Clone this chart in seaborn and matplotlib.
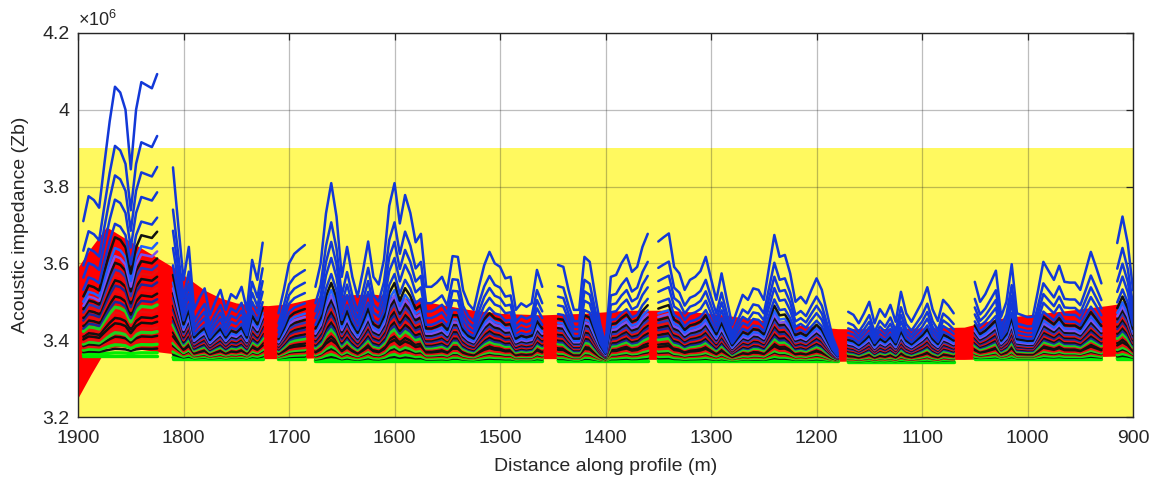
import numpy as np
import pandas as pd
import matplotlib
matplotlib.use("Agg")
import matplotlib.pyplot as plt
import seaborn as sns

# upper envelope (top blue line) of each profile segment, impedance in 1e6 Zb, samples every 5 m
seg1_x = list(range(1895, 1824, -5))
seg1_top = [3.71, 3.775, 3.765, 3.745, 3.86, 3.97, 4.06, 4.045, 4.0, 3.845, 4.0, 4.072, 4.064, 4.056, 4.093]
seg2_x = list(range(1810, 1724, -5))
seg2_top = [3.85, 3.70, 3.557, 3.643, 3.48, 3.51, 3.535, 3.465, 3.50, 3.531, 3.479, 3.52, 3.509,
            3.539, 3.479, 3.609, 3.557, 3.654]
seg3_x = list(range(1710, 1684, -5))
seg3_top = [3.47, 3.53, 3.60, 3.625, 3.637, 3.648]
seg4_x = list(range(1675, 1459, -5))
seg4_top = [3.539, 3.60, 3.73, 3.809, 3.722, 3.565, 3.643, 3.565, 3.513, 3.58, 3.657, 3.565, 3.545,
            3.61, 3.75, 3.809, 3.704, 3.778, 3.731, 3.655, 3.677, 3.539, 3.539, 3.55, 3.565, 3.531,
            3.619, 3.617, 3.53, 3.495, 3.479, 3.54, 3.595, 3.63, 3.60, 3.591, 3.561, 3.565, 3.479,
            3.496, 3.487, 3.496, 3.583, 3.539]
seg5_x = list(range(1445, 1359, -5))
seg5_top = [3.596, 3.591, 3.53, 3.479, 3.479, 3.617, 3.604, 3.52, 3.44, 3.39, 3.565, 3.57, 3.60,
            3.622, 3.578, 3.591, 3.643, 3.677]
seg6_x = list(range(1350, 1179, -5))
seg6_top = [3.657, 3.668, 3.678, 3.591, 3.574, 3.531, 3.557, 3.565, 3.58, 3.617, 3.56, 3.505, 3.574,
            3.505, 3.44, 3.48, 3.518, 3.505, 3.535, 3.531, 3.505, 3.59, 3.674, 3.617, 3.622, 3.574,
            3.50, 3.513, 3.496, 3.53, 3.561, 3.531, 3.47, 3.41, 3.375]
seg7_x = list(range(1170, 1069, -5))
seg7_top = [3.474, 3.466, 3.444, 3.47, 3.50, 3.444, 3.481, 3.461, 3.492, 3.448, 3.526, 3.47, 3.448,
            3.474, 3.50, 3.538, 3.48, 3.45, 3.505, 3.49, 3.47]
seg8_x = list(range(1050, 929, -5))
seg8_top = [3.552, 3.50, 3.52, 3.55, 3.581, 3.461, 3.50, 3.598, 3.47, 3.465, 3.46, 3.461, 3.53,
            3.604, 3.58, 3.557, 3.594, 3.552, 3.55, 3.55, 3.531, 3.58, 3.63, 3.59, 3.548]
seg9_x = list(range(915, 899, -5))
seg9_top = [3.653, 3.722, 3.652, 3.53]

# floor level of each segment (lowest green line)
seg_base = [3.36, 3.35, 3.35, 3.345, 3.345, 3.345, 3.343, 3.35, 3.35]

# relative level of each model curve between floor and top line, and its colour
line_levels = [0.0, 0.01, 0.025, 0.04, 0.055, 0.07, 0.085, 0.10, 0.12, 0.14, 0.16, 0.18, 0.20,
               0.22, 0.24, 0.26, 0.28, 0.30, 0.32, 0.345, 0.37, 0.40, 0.44, 0.49, 0.58, 0.67,
               0.78, 1.0]
line_colors = ["#00e600", "#00ee00", "#111111", "#10e010", "#e81010", "#111111", "#20d020",
               "#e81010", "#111111", "#111111", "#e81010", "#20d020", "#1a2a9a", "#111111",
               "#e81010", "#1a2a9a", "#111111", "#e81010", "#2a3ab8", "#111111", "#7a50f0",
               "#1f5fff", "#111111", "#1238d8", "#1238d8", "#1238d8", "#1238d8", "#1238d8"]

# red band of admissible values
red_x = [1900, 1888, 1873, 1860, 1845, 1825, 1810, 1795, 1780, 1765, 1750, 1735, 1720, 1700, 1675,
         1650, 1620, 1590, 1560, 1530, 1500, 1460, 1420, 1380, 1340, 1300, 1260, 1220, 1180, 1140,
         1100, 1060, 1030, 1000, 960, 925, 900]
red_upper = [3.59, 3.64, 3.695, 3.673, 3.648, 3.615, 3.59, 3.56, 3.53, 3.51, 3.497, 3.492, 3.49,
             3.495, 3.51, 3.518, 3.52, 3.51, 3.495, 3.48, 3.47, 3.466, 3.47, 3.478, 3.478, 3.47,
             3.455, 3.44, 3.43, 3.43, 3.432, 3.434, 3.455, 3.466, 3.478, 3.49, 3.50]
red_lower = [3.25, 3.31, 3.38, 3.383, 3.378, 3.37, 3.365, 3.36, 3.357, 3.355, 3.353, 3.352, 3.352,
             3.352, 3.354, 3.355, 3.355, 3.355, 3.355, 3.355, 3.355, 3.352, 3.352, 3.35, 3.35, 3.35,
             3.348, 3.346, 3.345, 3.347, 3.35, 3.35, 3.352, 3.355, 3.356, 3.358, 3.36]

# yellow band
yellow_band = (3.2, 3.9)

seg_x = [seg1_x, seg2_x, seg3_x, seg4_x, seg5_x, seg6_x, seg7_x, seg8_x, seg9_x]
seg_top = [seg1_top, seg2_top, seg3_top, seg4_top, seg5_top, seg6_top, seg7_top, seg8_top, seg9_top]

rows = []
for s, (xs, top, base) in enumerate(zip(seg_x, seg_top, seg_base)):
    for j, lvl in enumerate(line_levels):
        for x, t in zip(xs, top):
            rows.append((j, s, x, base + lvl * (t - base)))
df = pd.DataFrame(rows, columns=["line", "segment", "distance", "impedance"])

sns.set_theme(style="white")
plt.rcParams["font.family"] = ["Liberation Sans", "DejaVu Sans"]
plt.rcParams["mathtext.default"] = "regular"

fig = plt.figure(figsize=(11.51, 4.78), dpi=100)
ax = fig.add_axes([0.0678, 0.1276, 0.9166, 0.8034])

ax.axhspan(yellow_band[0], yellow_band[1], color="#fff95f", lw=0, zorder=1)
ax.fill_between(red_x, red_lower, red_upper, color="#ff0000", lw=0, zorder=2)

greens = ("#00e600", "#00ee00", "#10e010", "#20d020")
for j, (lvl, col) in enumerate(zip(line_levels, line_colors)):
    lw = 2.4 if col in greens else 1.8
    sns.lineplot(data=df[df["line"] == j], x="distance", y="impedance", units="segment",
                 estimator=None, sort=False, color=col, linewidth=lw, zorder=3,
                 legend=False, ax=ax)

ax.set_xlim(1900, 900)
ax.set_ylim(3.2, 4.2)
ax.set_xticks(range(900, 1901, 100))
ax.set_yticks([3.2, 3.4, 3.6, 3.8, 4.0, 4.2])
ax.yaxis.set_major_formatter(matplotlib.ticker.FormatStrFormatter("%g"))

ax.set_axisbelow("line")
ax.grid(True, color="#262626", alpha=0.3, lw=0.9)
ax.tick_params(direction="in", length=5, width=0.9, top=True, right=True,
               labelsize=14, colors="#262626")
ax.tick_params(axis="x", pad=9)
ax.tick_params(axis="y", pad=6)
for sp in ax.spines.values():
    sp.set_color("#262626")
    sp.set_linewidth(1.0)
    sp.set_zorder(5)

ax.set_xlabel("Distance along profile (m)", fontsize=14, color="#262626", labelpad=8)
ax.set_ylabel("Acoustic impedance (Zb)", fontsize=14, color="#262626", labelpad=10)
ax.text(0.0, 1.008, r"$\times10^{6}$", transform=ax.transAxes, ha="left", va="bottom",
        fontsize=13, color="#262626")

fig.savefig("out.png", dpi=100)
